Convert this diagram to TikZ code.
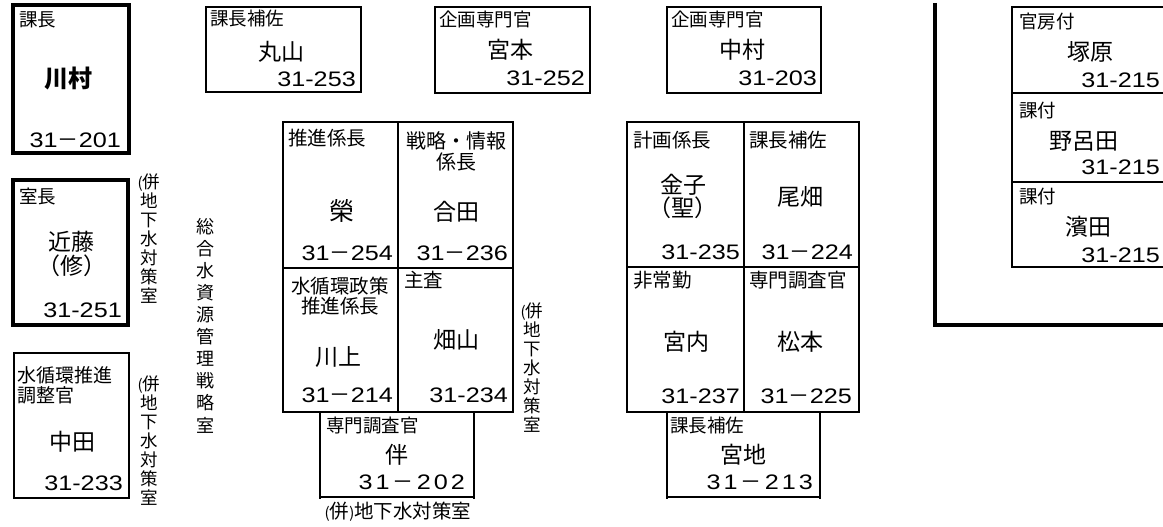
\documentclass[tikz,border=0pt]{standalone}
\usepackage{fontspec}
\setmainfont{Noto Sans CJK JP}
\newfontfamily\numfont[FakeStretch=1.2]{Liberation Sans}
\newcommand{\ld}{{\fontspec{Noto Sans CJK JP}－}}
\newcommand{\dsp}{\kern3pt}
\newcommand{\smp}[1]{{\fontsize{15}{15}\selectfont #1}}
\begin{document}
\begin{tikzpicture}[x=1pt,y=-1pt,
  thinln/.style={line width=1.8pt},
  thickln/.style={line width=4pt},
  lbl/.style={anchor=west,inner sep=0pt,font=\fontsize{18.5}{20}\selectfont},
  glbl/.style={anchor=west,inner sep=0pt,font=\fontsize{19.5}{21}\selectfont},
  nm/.style={inner sep=0pt,align=center,font=\fontsize{23}{23}\selectfont},
  tel/.style={anchor=east,inner sep=0pt,font=\numfont\fontsize{21}{22}\selectfont},
  vt/.style={inner sep=0pt,align=center,font=\fontsize{17.5}{19}\selectfont},
  vtb/.style={inner sep=0pt,align=center,font=\fontsize{18}{22.1}\selectfont}]
\useasboundingbox (0,0) rectangle (1163,527);
% ---- top row ----
\draw[thickln] (13,5) rectangle (129,153);
\node[lbl] (l1) at (19,20) {課長};
\node[nm,font=\fontsize{24}{24}\selectfont\bfseries] (n1) at (68,79) {川村};
\node[tel] (t1) at (121,140) {31\ld 201};

\draw[thinln] (206,7) rectangle (361,92);
\node[lbl] (l2) at (210,19) {課長補佐};
\node[nm] (n2) at (281,52) {丸山};
\node[tel] (t2) at (356,79) {31-253};

\draw[thinln] (435,7) rectangle (590,93);
\node[lbl] (l3) at (439,19) {企画専門官};
\node[nm] (n3) at (510,50) {宮本};
\node[tel] (t3) at (585,78) {31-252};

\draw[thinln] (667,7) rectangle (821,93);
\node[lbl] (l4) at (671,19) {企画専門官};
\node[nm] (n4) at (742,50) {中村};
\node[tel] (t4) at (817,78) {31-203};

% ---- left column ----
\draw[thickln] (13,180) rectangle (128,325);
\node[lbl] (l5) at (19,196) {室長};
\node[nm,font=\fontsize{23}{24}\selectfont] (n5) at (72,254) {近藤\\（修）};
\node[tel] (t5) at (122,310) {31-251};

\draw[thinln] (14,353) rectangle (129,498);
\node[lbl,align=left,font=\fontsize{19}{20}\selectfont] (l6) at (17,385) {水循環推進\\調整官};
\node[nm] (n6) at (72,442) {中田};
\node[tel] (t6) at (123,483) {31-233};

\node[vt] (v1) at (149,239) {\smp{(}併\\地\\下\\水\\対\\策\\室};
\node[vt] (v2) at (149,441) {\smp{(}併\\地\\下\\水\\対\\策\\室};
\node[vtb] (v3) at (205,325.5) {総\\合\\水\\資\\源\\管\\理\\戦\\略\\室};

% ---- middle grid ----
\draw[thinln] (283,122) rectangle (513,412);
\draw[thinln] (398,122) -- (398,412);
\draw[thinln] (283,268) -- (513,268);
\draw[thinln] (320,412) -- (320,499) (474,412) -- (474,499) (320,497) -- (474,497);

\node[glbl] (l7) at (288,138) {推進係長};
\node[nm,font=\fontsize{25}{25}\selectfont] (n7) at (342,211) {榮};
\node[tel] (t7) at (393,253) {31\ld 254};

\node[nm,font=\fontsize{20}{21}\selectfont] (l8) at (456,151) {戦略・情報\\係長};
\node[nm] (n8) at (456,212) {合田};
\node[tel] (t8) at (508,253) {31\ld 236};

\node[nm,font=\fontsize{19.5}{20}\selectfont] (l9) at (340,296) {水循環政策\\推進係長};
\node[nm] (n9) at (338,357) {川上};
\node[tel] (t9) at (393,395) {31\ld 214};

\node[glbl] (l10) at (404,280) {主査};
\node[nm] (n10) at (456,340) {畑山};
\node[tel] (t10) at (508,395) {31-234};

\node[lbl] (l11) at (326,426) {専門調査官};
\node[nm] (n11) at (397,455) {伴};
\node[tel] (t11) at (465,482) {3\dsp 1\dsp\ld\dsp 2\dsp 0\dsp 2};
\node[inner sep=0pt,font=\fontsize{19.5}{19.5}\selectfont] (c1) at (398,512) {\smp{(}併\smp{)}地下水対策室};

\node[vt] (v4) at (532,368) {\smp{(}併\\地\\下\\水\\対\\策\\室};

% ---- right grid ----
\draw[thinln] (627,122) rectangle (859,412);
\draw[thinln] (744,122) -- (744,412);
\draw[thinln] (627,267) -- (859,267);
\draw[thinln] (667,412) -- (667,499) (820,412) -- (820,499) (667,497) -- (820,497);

\node[glbl] (l12) at (633,140) {計画係長};
\node[nm] (n12) at (683,196) {金子\\（聖）};
\node[tel] (t12) at (740,252) {31-235};

\node[glbl] (l13) at (749,140) {課長補佐};
\node[nm] (n13) at (800,197) {尾畑};
\node[tel] (t13) at (853,252) {31\ld 224};

\node[glbl] (l14) at (633,280) {非常勤};
\node[nm] (n14) at (686,342) {宮内};
\node[tel] (t14) at (740,396) {31-237};

\node[glbl] (l15) at (749,280) {専門調査官};
\node[nm] (n15) at (800,342) {松本};
\node[tel] (t15) at (852,396) {31\ld 225};

\node[lbl] (l16) at (670,426) {課長補佐};
\node[nm] (n16) at (743,455) {宮地};
\node[tel] (t16) at (813,482) {3\dsp 1\dsp\ld\dsp 2\dsp 1\dsp 3};

% ---- right frame ----
\draw[thickln] (935,3) -- (935,325) -- (1175,325);
\draw[thinln] (1012,7) rectangle (1180,267);
\draw[thinln] (1012,93) -- (1180,93) (1012,182) -- (1180,182);

\node[lbl] (l17) at (1019,22) {官房付};
\node[nm] (n17) at (1090,52) {塚原};
\node[tel] (t17) at (1160,80) {31-215};

\node[lbl] (l18) at (1019,111) {課付};
\node[nm] (n18) at (1084,141) {野呂田};
\node[tel] (t18) at (1160,167) {31-215};

\node[lbl] (l19) at (1019,197) {課付};
\node[nm] (n19) at (1088,227) {濱田};
\node[tel] (t19) at (1160,255) {31-215};
\end{tikzpicture}
\end{document}
